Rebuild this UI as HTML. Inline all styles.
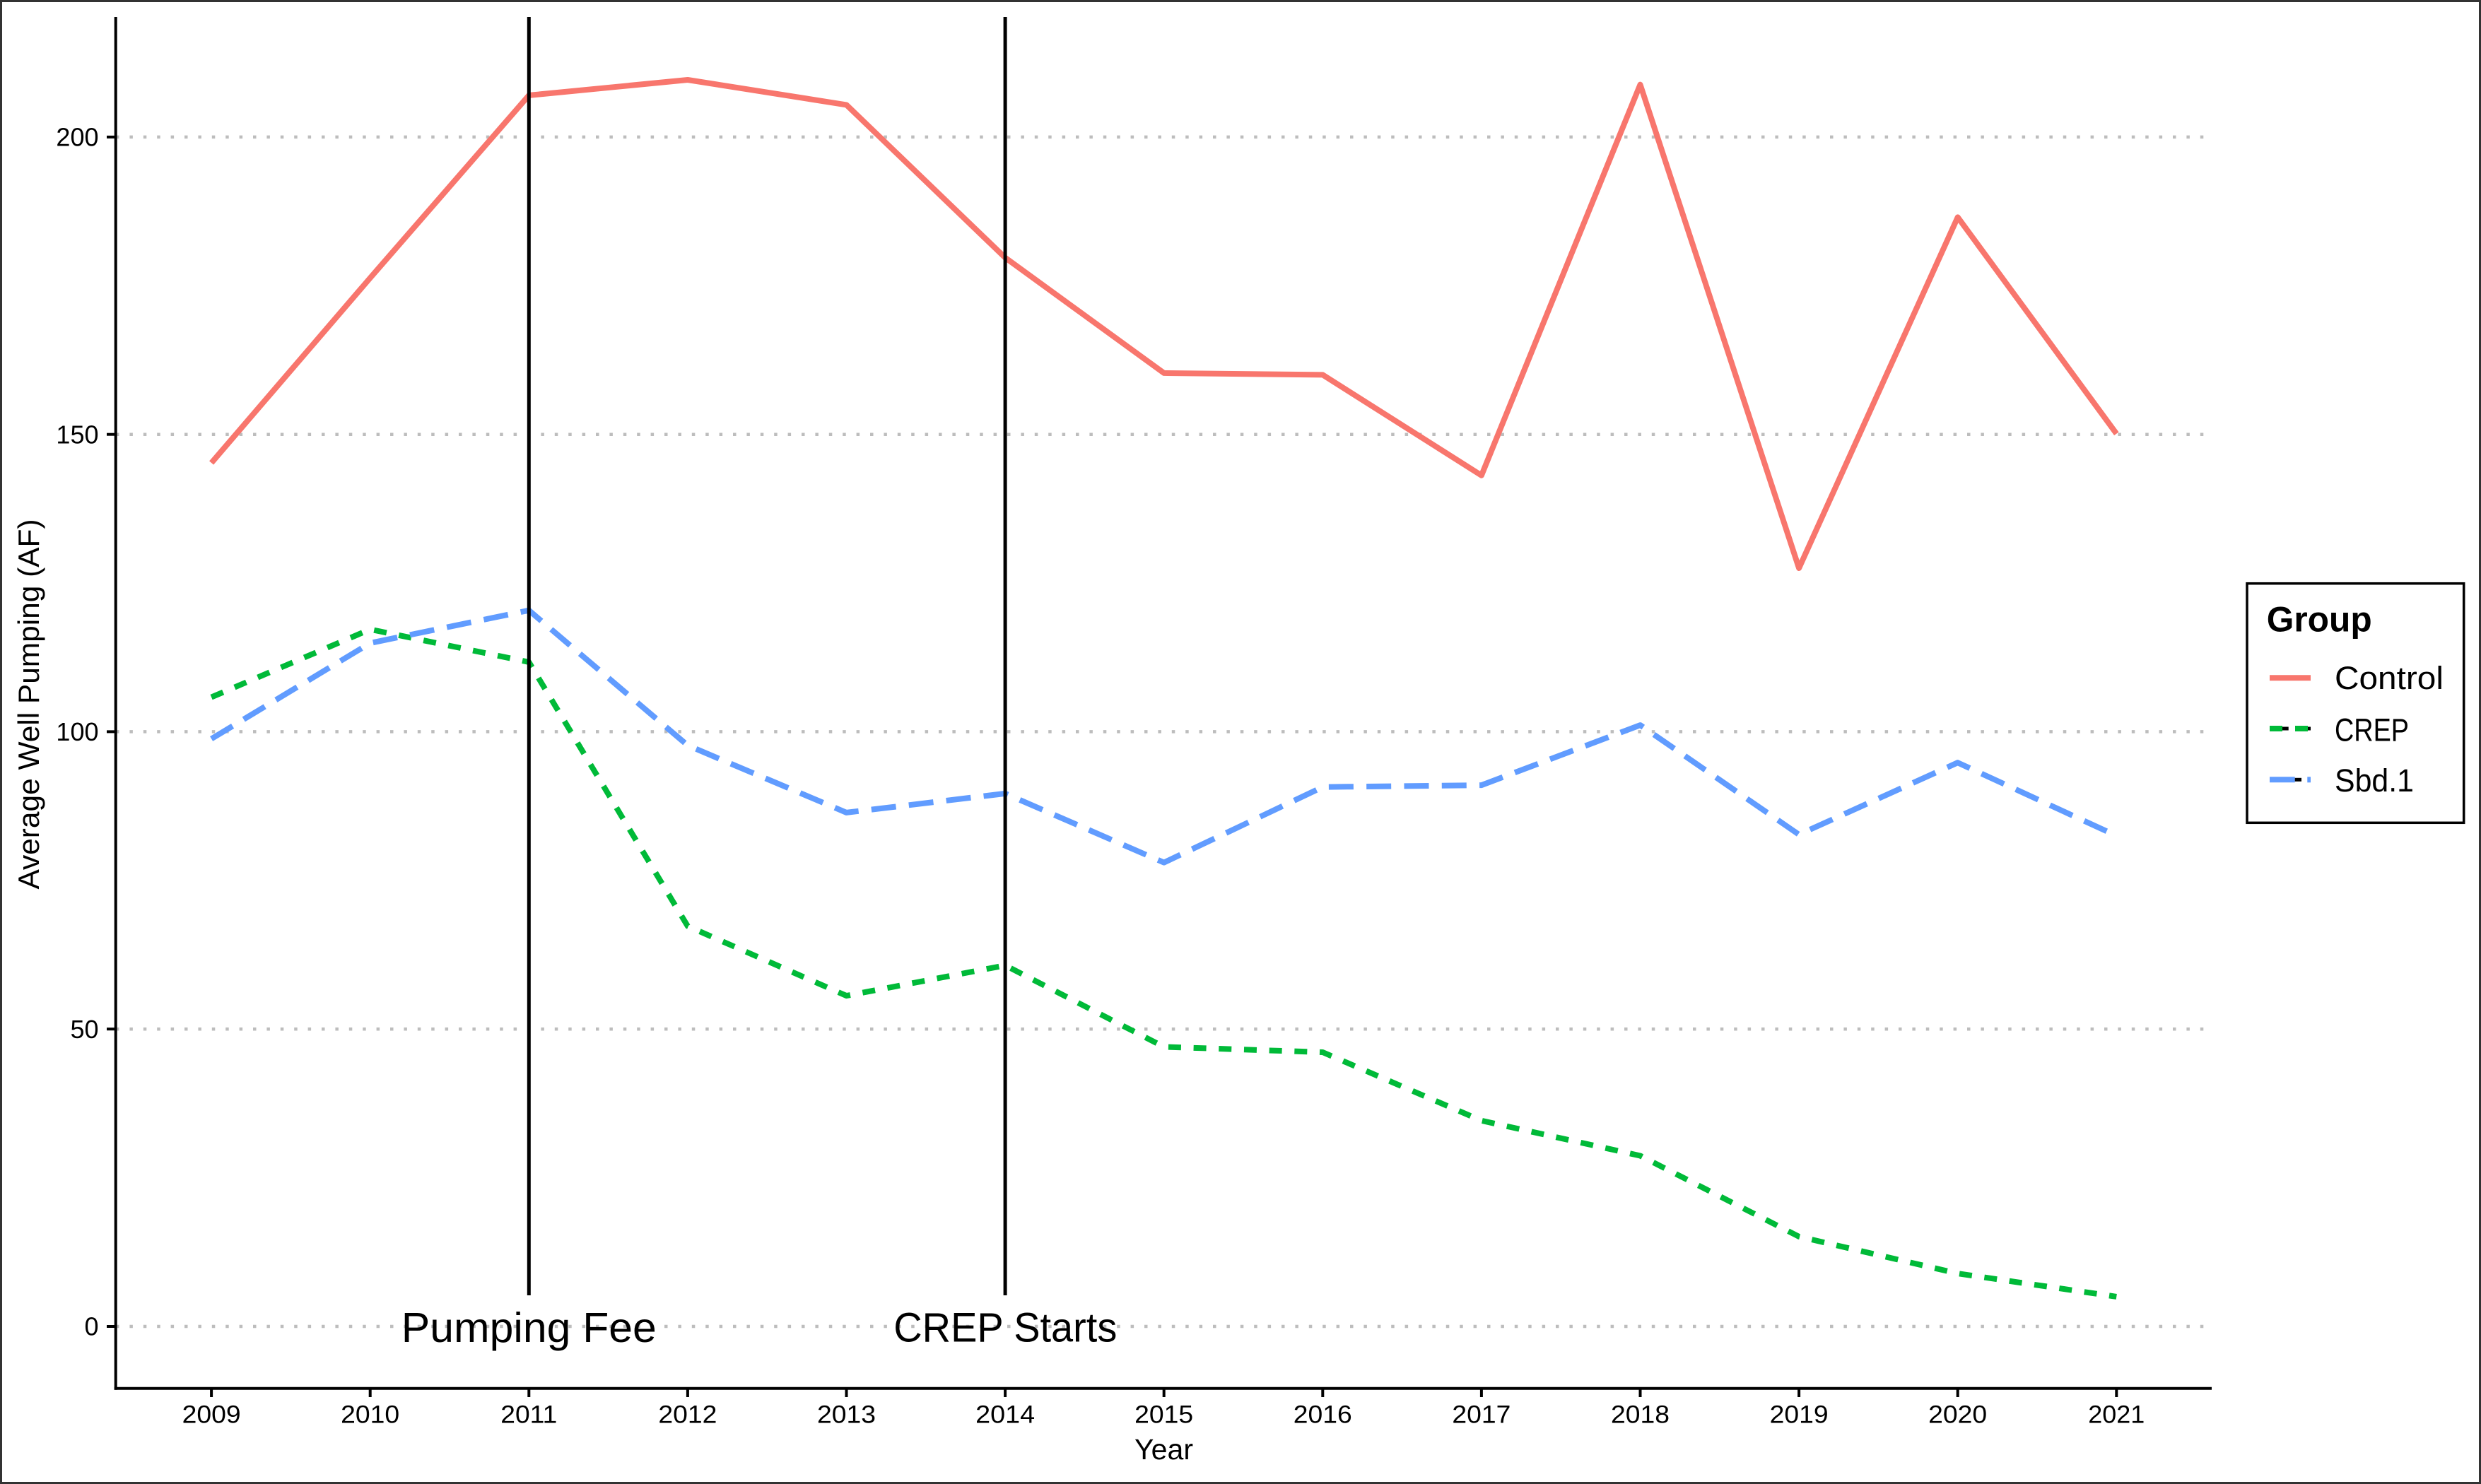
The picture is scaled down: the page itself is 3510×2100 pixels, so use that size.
<!DOCTYPE html>
<html>
<head>
<meta charset="utf-8">
<style>
  html, body { margin: 0; padding: 0; background: #ffffff; }
  svg { display: block; }
  text { font-family: "Liberation Sans", "DejaVu Sans", sans-serif; fill: #000; }
</style>
</head>
<body>
<svg width="3510" height="2100" viewBox="0 0 3510 2100" xmlns="http://www.w3.org/2000/svg">
  <rect x="0" y="0" width="3510" height="2100" fill="#ffffff"/>
  <rect x="1.5" y="1.5" width="3507" height="2097" fill="none" stroke="#333333" stroke-width="3"/>

  <!-- grid lines (dotted) -->
  <g stroke="#bdbdbd" stroke-width="4.5" stroke-dasharray="4.5 14.9" fill="none">
    <line x1="164" y1="193.9" x2="3128" y2="193.9"/>
    <line x1="164" y1="614.7" x2="3128" y2="614.7"/>
    <line x1="164" y1="1035.4" x2="3128" y2="1035.4"/>
    <line x1="164" y1="1456.2" x2="3128" y2="1456.2"/>
    <line x1="164" y1="1877" x2="3128" y2="1877"/>
  </g>

  <!-- series -->
  <g fill="none" stroke-width="8" stroke-linejoin="round" stroke-linecap="butt">
    <polyline stroke="#F8766D" points="299.1,655.0 523.7,393.3 748.3,134.9 972.9,113.0 1197.5,148.4 1422.1,364.6 1646.7,527.9 1871.3,530.4 2095.9,672.7 2320.5,119.7 2545.1,804.0 2769.7,307.4 2994.3,613.8"/>
    <polyline stroke="#00BA38" stroke-dasharray="18 17.7" points="299.1,986.6 523.7,890.6 748.3,936.9 972.9,1310.6 1197.5,1409.1 1422.1,1366.1 1646.7,1481.4 1871.3,1489.0 2095.9,1585.8 2320.5,1635.5 2545.1,1749.9 2769.7,1802.1 2994.3,1834.9"/>
    <polyline stroke="#619CFF" stroke-dasharray="35 18.3" points="299.1,1045.5 523.7,910.0 748.3,863.7 972.9,1054.8 1197.5,1149.9 1422.1,1122.9 1646.7,1220.6 1871.3,1113.7 2095.9,1111.1 2320.5,1026.1 2545.1,1181.0 2769.7,1079.2 2994.3,1182.7"/>
  </g>

  <!-- vertical event lines -->
  <g stroke="#000" stroke-width="5">
    <line x1="748.3" y1="24" x2="748.3" y2="1833"/>
    <line x1="1422.1" y1="24" x2="1422.1" y2="1833"/>
  </g>

  <!-- annotations -->
  <text x="748.3" y="1899" font-size="59" text-anchor="middle" textLength="361" lengthAdjust="spacingAndGlyphs">Pumping Fee</text>
  <text x="1422.3" y="1898.3" font-size="58" text-anchor="middle" textLength="316" lengthAdjust="spacingAndGlyphs">CREP Starts</text>

  <!-- axes -->
  <g stroke="#000" stroke-width="4" fill="none">
    <line x1="163.7" y1="24" x2="163.7" y2="1966.7"/>
    <line x1="161.7" y1="1964.7" x2="3129" y2="1964.7"/>
    <!-- y ticks -->
    <line x1="151" y1="193.9" x2="163.7" y2="193.9"/>
    <line x1="151" y1="614.7" x2="163.7" y2="614.7"/>
    <line x1="151" y1="1035.4" x2="163.7" y2="1035.4"/>
    <line x1="151" y1="1456.2" x2="163.7" y2="1456.2"/>
    <line x1="151" y1="1877" x2="163.7" y2="1877"/>
    <!-- x ticks -->
    <line x1="299.1" y1="1964.7" x2="299.1" y2="1977"/>
    <line x1="523.7" y1="1964.7" x2="523.7" y2="1977"/>
    <line x1="748.3" y1="1964.7" x2="748.3" y2="1977"/>
    <line x1="972.9" y1="1964.7" x2="972.9" y2="1977"/>
    <line x1="1197.5" y1="1964.7" x2="1197.5" y2="1977"/>
    <line x1="1422.1" y1="1964.7" x2="1422.1" y2="1977"/>
    <line x1="1646.7" y1="1964.7" x2="1646.7" y2="1977"/>
    <line x1="1871.3" y1="1964.7" x2="1871.3" y2="1977"/>
    <line x1="2095.9" y1="1964.7" x2="2095.9" y2="1977"/>
    <line x1="2320.5" y1="1964.7" x2="2320.5" y2="1977"/>
    <line x1="2545.1" y1="1964.7" x2="2545.1" y2="1977"/>
    <line x1="2769.7" y1="1964.7" x2="2769.7" y2="1977"/>
    <line x1="2994.3" y1="1964.7" x2="2994.3" y2="1977"/>
  </g>

  <!-- y tick labels -->
  <g font-size="36" text-anchor="end">
    <text x="139.5" y="206.6">200</text>
    <text x="139.5" y="627.4">150</text>
    <text x="139.5" y="1048.2">100</text>
    <text x="139.5" y="1469">50</text>
    <text x="139.5" y="1889.7">0</text>
  </g>

  <!-- x tick labels -->
  <g font-size="35" text-anchor="middle">
    <text x="299.1" y="2013.3" textLength="83" lengthAdjust="spacingAndGlyphs">2009</text>
    <text x="523.7" y="2013.3" textLength="83" lengthAdjust="spacingAndGlyphs">2010</text>
    <text x="748.3" y="2013.3" textLength="80" lengthAdjust="spacingAndGlyphs">2011</text>
    <text x="972.9" y="2013.3" textLength="83" lengthAdjust="spacingAndGlyphs">2012</text>
    <text x="1197.5" y="2013.3" textLength="83" lengthAdjust="spacingAndGlyphs">2013</text>
    <text x="1422.1" y="2013.3" textLength="84" lengthAdjust="spacingAndGlyphs">2014</text>
    <text x="1646.7" y="2013.3" textLength="83" lengthAdjust="spacingAndGlyphs">2015</text>
    <text x="1871.3" y="2013.3" textLength="83" lengthAdjust="spacingAndGlyphs">2016</text>
    <text x="2095.9" y="2013.3" textLength="83" lengthAdjust="spacingAndGlyphs">2017</text>
    <text x="2320.5" y="2013.3" textLength="83" lengthAdjust="spacingAndGlyphs">2018</text>
    <text x="2545.1" y="2013.3" textLength="83" lengthAdjust="spacingAndGlyphs">2019</text>
    <text x="2769.7" y="2013.3" textLength="83" lengthAdjust="spacingAndGlyphs">2020</text>
    <text x="2994.3" y="2013.3" textLength="80" lengthAdjust="spacingAndGlyphs">2021</text>
  </g>

  <!-- axis titles -->
  <text x="1646.5" y="2065" font-size="41" text-anchor="middle" textLength="83" lengthAdjust="spacingAndGlyphs">Year</text>
  <text transform="translate(55,996.5) rotate(-90)" x="0" y="0" font-size="42" text-anchor="middle" textLength="524" lengthAdjust="spacingAndGlyphs">Average Well Pumping (AF)</text>

  <!-- legend -->
  <rect x="3179" y="825.7" width="306.7" height="338.6" fill="#ffffff" stroke="#000" stroke-width="3.5"/>
  <text x="3206.7" y="893.3" font-size="50" font-weight="bold" textLength="149" lengthAdjust="spacingAndGlyphs">Group</text>

  <line x1="3211" y1="959.3" x2="3269" y2="959.3" stroke="#F8766D" stroke-width="8"/>
  <text x="3303" y="975" font-size="45" textLength="154" lengthAdjust="spacingAndGlyphs">Control</text>

  <g stroke-width="8">
    <line x1="3211" y1="1031" x2="3229" y2="1031" stroke="#00BA38"/>
    <line x1="3247" y1="1031" x2="3265" y2="1031" stroke="#00BA38"/>
  </g>
  <g stroke-width="5" stroke="#000">
    <line x1="3229" y1="1031" x2="3237.7" y2="1031"/>
    <line x1="3265" y1="1031" x2="3269" y2="1031"/>
  </g>
  <text x="3303" y="1048.3" font-size="45" textLength="105" lengthAdjust="spacingAndGlyphs">CREP</text>

  <g stroke-width="8">
    <line x1="3211" y1="1103.3" x2="3246.7" y2="1103.3" stroke="#619CFF"/>
    <line x1="3264.3" y1="1103.3" x2="3269" y2="1103.3" stroke="#619CFF"/>
  </g>
  <line x1="3246.7" y1="1103.3" x2="3256" y2="1103.3" stroke="#000" stroke-width="5"/>
  <text x="3303" y="1120" font-size="45" textLength="112" lengthAdjust="spacingAndGlyphs">Sbd.1</text>
</svg>
</body>
</html>
